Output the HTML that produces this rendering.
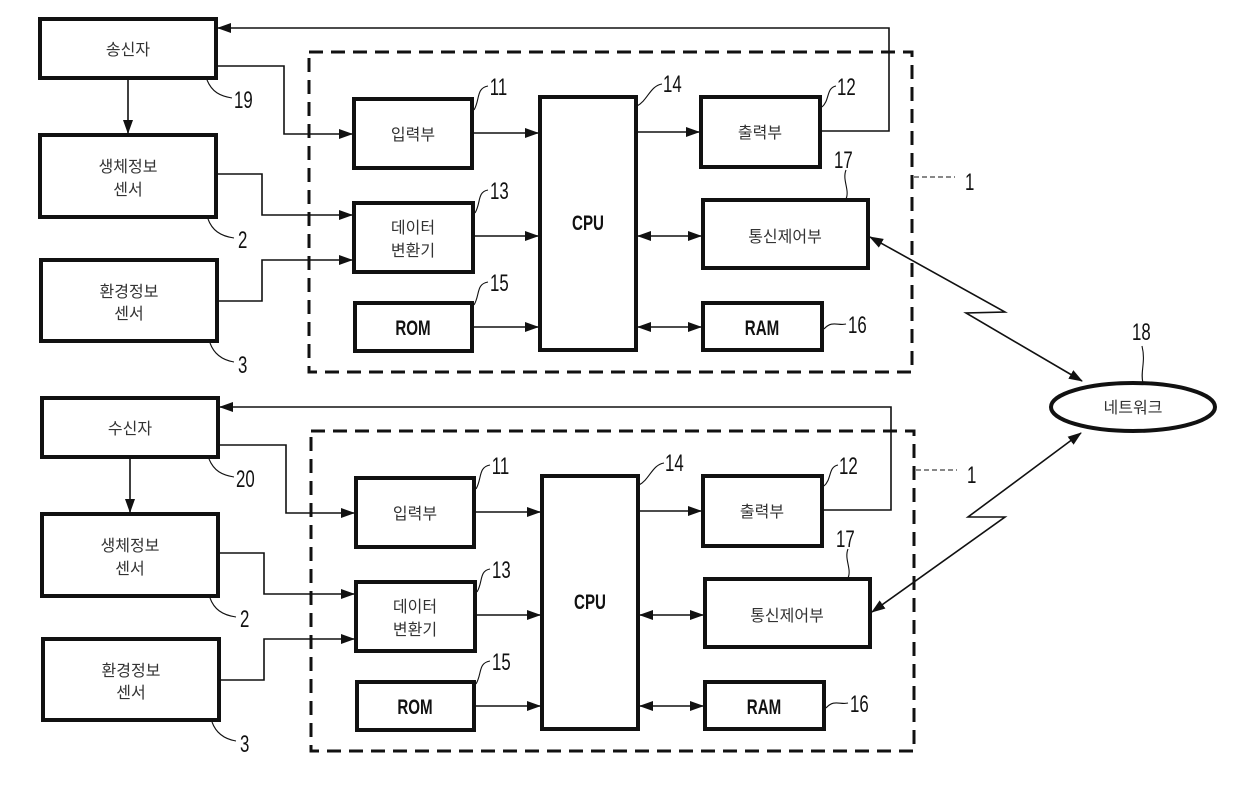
<!DOCTYPE html>
<html><head><meta charset="utf-8"><style>
html,body{margin:0;padding:0;background:#fff;width:1240px;height:789px;overflow:hidden}
svg{display:block}
.k{font-family:"Liberation Sans","Noto Sans CJK KR",sans-serif;font-size:16px;fill:#333;text-anchor:middle}
.b{font-family:"Liberation Sans",sans-serif;font-weight:bold;font-size:21px;fill:#111;text-anchor:middle;transform-box:fill-box;transform-origin:center;transform:scaleX(0.72)}
.n{font-family:"Liberation Sans",sans-serif;font-size:24px;fill:#111;transform-box:fill-box;transform-origin:center;transform:scaleX(0.7)}
.bx{fill:#fff;stroke:#111;stroke-width:4}
.ln{fill:none;stroke:#111;stroke-width:1.6}
.th{fill:none;stroke:#111;stroke-width:1.1}
</style></head><body>
<svg width="1240" height="789" viewBox="0 0 1240 789" xmlns="http://www.w3.org/2000/svg">
<defs>
<marker id="a" markerWidth="14" markerHeight="10" refX="13" refY="5" orient="auto" markerUnits="userSpaceOnUse"><path d="M0,0 L14,5 L0,10 z" fill="#111"/></marker>
<marker id="s" markerWidth="14" markerHeight="10" refX="1" refY="5" orient="auto" markerUnits="userSpaceOnUse"><path d="M14,0 L0,5 L14,10 z" fill="#111"/></marker>
</defs>

<!-- TOP -->
<g>
<rect class="bx" x="40" y="19" width="176" height="59"/>
<text class="k" x="128" y="55">송신자</text>
<rect class="bx" x="40" y="135" width="176" height="82"/>
<text class="k" x="128" y="172">생체정보</text><text class="k" x="128" y="195">센서</text>
<rect class="bx" x="41" y="260" width="176" height="81"/>
<text class="k" x="129" y="297">환경정보</text><text class="k" x="129" y="319">센서</text>
<rect x="309" y="52" width="603" height="320" fill="none" stroke="#111" stroke-width="3" stroke-dasharray="14 8"/>
<rect class="bx" x="354" y="99" width="118" height="69"/><text class="k" x="413" y="140">입력부</text>
<rect class="bx" x="354" y="203" width="119" height="69"/><text class="k" x="413" y="233">데이터</text><text class="k" x="413" y="256">변환기</text>
<rect class="bx" x="355" y="303" width="117" height="48"/><text class="b" x="413" y="335">ROM</text>
<rect class="bx" x="540" y="97" width="96" height="253"/><text class="b" x="588" y="230">CPU</text>
<rect class="bx" x="701" y="97" width="119" height="70"/><text class="k" x="760" y="138">출력부</text>
<rect class="bx" x="703" y="200" width="165" height="68"/><text class="k" x="785" y="242">통신제어부</text>
<rect class="bx" x="703" y="303" width="119" height="47"/><text class="b" x="762" y="335">RAM</text>
<path class="ln" d="M216 66 H284 V134 H352" marker-end="url(#a)"/>
<path class="ln" d="M128 78 V133" marker-end="url(#a)"/>
<path class="ln" d="M216 174 H262 V215 H352" marker-end="url(#a)"/>
<path class="ln" d="M217 301 H262 V260 H352" marker-end="url(#a)"/>
<path class="ln" d="M472 133 H538" marker-end="url(#a)"/>
<path class="ln" d="M473 236 H538" marker-end="url(#a)"/>
<path class="ln" d="M472 327 H538" marker-end="url(#a)"/>
<path class="ln" d="M636 132 H699" marker-end="url(#a)"/>
<path class="ln" d="M638 236 H701" marker-start="url(#s)" marker-end="url(#a)"/>
<path class="ln" d="M638 327 H701" marker-start="url(#s)" marker-end="url(#a)"/>
<path class="ln" d="M820 131 H889 V28 H218" marker-end="url(#a)"/>
<path class="ln" d="M870 237 L1005 312 L966 313 L1082 381" marker-start="url(#s)" marker-end="url(#a)"/>
<path class="th" d="M207 80 C212 92 220 96 232 98"/><text class="n" x="230" y="108">19</text>
<path class="th" d="M208 219 C212 230 220 236 234 238"/><text class="n" x="236" y="248">2</text>
<path class="th" d="M210 343 C214 354 222 360 234 362"/><text class="n" x="236" y="373">3</text>
<path class="th" d="M474 110 C480 100 476 88 488 86"/><text class="n" x="486" y="95">11</text>
<path class="th" d="M475 213 C481 203 477 192 488 190"/><text class="n" x="486" y="199">13</text>
<path class="th" d="M474 305 C480 295 476 284 488 282"/><text class="n" x="486" y="291">15</text>
<path class="th" d="M637 106 C648 100 650 86 662 84"/><text class="n" x="659" y="92">14</text>
<path class="th" d="M822 107 C830 100 826 88 836 86"/><text class="n" x="833" y="95">12</text>
<path class="th" d="M846 199 C850 190 842 180 846 170"/><text class="n" x="830" y="168">17</text>
<path class="th" d="M824 329 C832 320 838 326 846 324"/><text class="n" x="844" y="333">16</text>
<path class="th" d="M914 177 H955" stroke-dasharray="5 3"/><text class="n" x="963" y="190">1</text>
</g>

<!-- BOTTOM -->
<g transform="translate(2,379)">
<rect class="bx" x="40" y="19" width="176" height="59"/>
<text class="k" x="128" y="55">수신자</text>
<rect class="bx" x="40" y="135" width="176" height="82"/>
<text class="k" x="128" y="172">생체정보</text><text class="k" x="128" y="195">센서</text>
<rect class="bx" x="41" y="260" width="176" height="81"/>
<text class="k" x="129" y="297">환경정보</text><text class="k" x="129" y="319">센서</text>
<rect x="309" y="52" width="603" height="320" fill="none" stroke="#111" stroke-width="3" stroke-dasharray="14 8"/>
<rect class="bx" x="354" y="99" width="118" height="69"/><text class="k" x="413" y="140">입력부</text>
<rect class="bx" x="354" y="203" width="119" height="69"/><text class="k" x="413" y="233">데이터</text><text class="k" x="413" y="256">변환기</text>
<rect class="bx" x="355" y="303" width="117" height="48"/><text class="b" x="413" y="335">ROM</text>
<rect class="bx" x="540" y="97" width="96" height="253"/><text class="b" x="588" y="230">CPU</text>
<rect class="bx" x="701" y="97" width="119" height="70"/><text class="k" x="760" y="138">출력부</text>
<rect class="bx" x="703" y="200" width="165" height="68"/><text class="k" x="785" y="242">통신제어부</text>
<rect class="bx" x="703" y="303" width="119" height="47"/><text class="b" x="762" y="335">RAM</text>
<path class="ln" d="M216 66 H284 V134 H352" marker-end="url(#a)"/>
<path class="ln" d="M128 78 V133" marker-end="url(#a)"/>
<path class="ln" d="M216 174 H262 V215 H352" marker-end="url(#a)"/>
<path class="ln" d="M217 301 H262 V260 H352" marker-end="url(#a)"/>
<path class="ln" d="M472 133 H538" marker-end="url(#a)"/>
<path class="ln" d="M473 236 H538" marker-end="url(#a)"/>
<path class="ln" d="M472 327 H538" marker-end="url(#a)"/>
<path class="ln" d="M636 132 H699" marker-end="url(#a)"/>
<path class="ln" d="M638 236 H701" marker-start="url(#s)" marker-end="url(#a)"/>
<path class="ln" d="M638 327 H701" marker-start="url(#s)" marker-end="url(#a)"/>
<path class="ln" d="M820 131 H889 V28 H218" marker-end="url(#a)"/>
<path class="th" d="M207 80 C212 92 220 96 232 98"/><text class="n" x="230" y="108">20</text>
<path class="th" d="M208 219 C212 230 220 236 234 238"/><text class="n" x="236" y="248">2</text>
<path class="th" d="M210 343 C214 354 222 360 234 362"/><text class="n" x="236" y="373">3</text>
<path class="th" d="M474 110 C480 100 476 88 488 86"/><text class="n" x="486" y="95">11</text>
<path class="th" d="M475 213 C481 203 477 192 488 190"/><text class="n" x="486" y="199">13</text>
<path class="th" d="M474 305 C480 295 476 284 488 282"/><text class="n" x="486" y="291">15</text>
<path class="th" d="M637 106 C648 100 650 86 662 84"/><text class="n" x="659" y="92">14</text>
<path class="th" d="M822 107 C830 100 826 88 836 86"/><text class="n" x="833" y="95">12</text>
<path class="th" d="M846 199 C850 190 842 180 846 170"/><text class="n" x="830" y="168">17</text>
<path class="th" d="M824 329 C832 320 838 326 846 324"/><text class="n" x="844" y="333">16</text>
<path class="th" d="M914 91 H955" stroke-dasharray="5 3"/><text class="n" x="963" y="104">1</text>
</g>

<path class="ln" d="M1081 433 L968 517 L1005 517 L872 612" marker-start="url(#s)" marker-end="url(#a)"/>
<ellipse cx="1133" cy="407" rx="82" ry="24" fill="#fff" stroke="#111" stroke-width="4"/>
<text class="k" x="1133" y="413">네트워크</text>
<path class="th" d="M1143 383 C1140 372 1146 362 1142 346"/>
<text class="n" x="1128" y="340">18</text>
</svg>
</body></html>
